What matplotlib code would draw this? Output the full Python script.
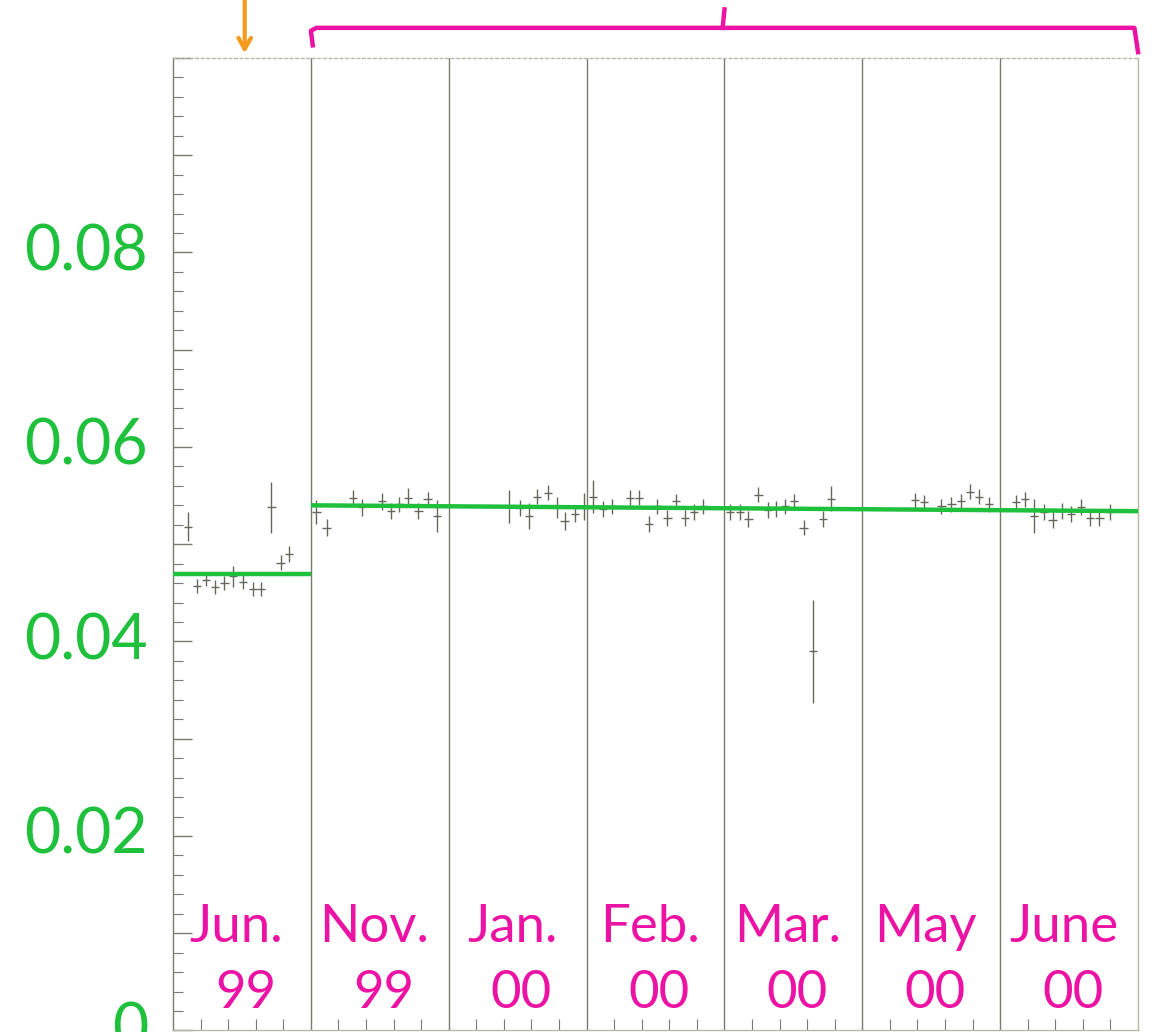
import matplotlib
matplotlib.use("Agg")
import matplotlib.pyplot as plt
from matplotlib.ticker import MultipleLocator, FuncFormatter

# runs, one panel each (15 measurement slots per panel)
months = ["Jun.", "Nov.", "Jan.", "Feb.", "Mar.", "May", "June"]
years = ["99", "99", "00", "00", "00", "00", "00"]

# measured points: slot position, value, error
x_jun = [1.6, 2.6, 3.6, 4.6, 5.6, 6.5, 7.6, 8.7, 9.6, 10.7, 11.7, 12.6]
y_jun = [0.0518, 0.0457, 0.0463, 0.0456, 0.0460, 0.0467, 0.0461, 0.0454, 0.0454, 0.0538, 0.0481, 0.0490]
e_jun = [0.0015, 0.0007, 0.0006, 0.0007, 0.0007, 0.0011, 0.0007, 0.0007, 0.0007, 0.0026, 0.0008, 0.0008]

x_rest = [15.6, 16.7, 19.6, 20.6, 22.7, 23.7, 24.6, 25.6, 26.7, 27.7, 28.7,
          36.6, 37.7, 38.7, 39.6, 40.8, 41.8, 42.6, 43.7, 44.7,
          45.7, 46.8, 47.8, 49.7, 50.7, 51.8, 52.7, 53.8, 54.7, 55.7, 56.7, 57.7,
          60.6, 61.7, 62.6, 63.7, 64.7, 65.6, 66.6, 67.6, 68.6, 69.6, 70.7, 71.6,
          80.7, 81.7, 83.6, 84.7, 85.7, 86.7, 87.7, 88.8,
          91.7, 92.7, 93.7, 94.8, 95.7, 96.7, 97.7, 98.8, 99.8, 100.8, 101.9]
y_rest = [0.0533, 0.0517, 0.0548, 0.0538, 0.0544, 0.0534, 0.0541, 0.0548, 0.0534, 0.0546, 0.0529,
          0.0539, 0.0537, 0.0529, 0.0549, 0.0553, 0.0538, 0.0524, 0.0531, 0.0539,
          0.0549, 0.0536, 0.0539, 0.0548, 0.0548, 0.0521, 0.0539, 0.0527, 0.0544, 0.0527, 0.0533, 0.0539,
          0.0533, 0.0533, 0.0526, 0.0551, 0.0535, 0.0536, 0.0539, 0.0544, 0.0517, 0.0390, 0.0526, 0.0547,
          0.0545, 0.0543, 0.0539, 0.0541, 0.0544, 0.0554, 0.0549, 0.0541,
          0.0543, 0.0546, 0.0529, 0.0533, 0.0525, 0.0534, 0.0531, 0.0538, 0.0527, 0.0527, 0.0533]
e_rest = [0.0012, 0.0009, 0.0008, 0.0009, 0.0009, 0.0008, 0.0008, 0.0010, 0.0008, 0.0008, 0.0016,
          0.0017, 0.0008, 0.0013, 0.0008, 0.0008, 0.0011, 0.0009, 0.0008, 0.0014,
          0.0017, 0.0008, 0.0008, 0.0008, 0.0008, 0.0008, 0.0008, 0.0008, 0.0008, 0.0008, 0.0008, 0.0008,
          0.0008, 0.0008, 0.0008, 0.0008, 0.0008, 0.0008, 0.0008, 0.0008, 0.0008, 0.0053, 0.0008, 0.0013,
          0.0008, 0.0008, 0.0008, 0.0008, 0.0008, 0.0008, 0.0008, 0.0008,
          0.0008, 0.0008, 0.0017, 0.0008, 0.0008, 0.0008, 0.0008, 0.0008, 0.0008, 0.0008, 0.0008]

# fitted levels: first run alone, then one line over the later runs
fit_jun_x = [0, 15]
fit_jun_y = [0.0469, 0.0469]
fit_rest_x = [15, 105]
fit_rest_y = [0.0540, 0.0534]

green = "#1fc03c"
magenta = "#ec12a4"
orange = "#f59a1c"
grey = "#7a7a72"
hand = "Lato"

fig = plt.figure(figsize=(11.52, 10.32), dpi=100)
ax = fig.add_axes([0.1502, 0.0015, 0.8377, 0.9423])

ax.errorbar(x_jun, y_jun, yerr=e_jun, xerr=0.45, fmt="none", ecolor="#66665c", elinewidth=1.0)
ax.errorbar(x_rest, y_rest, yerr=e_rest, xerr=0.45, fmt="none", ecolor="#66665c", elinewidth=1.0)
ax.plot(fit_jun_x, fit_jun_y, color=green, lw=3.2, solid_capstyle="butt", zorder=3)
ax.plot(fit_rest_x, fit_rest_y, color=green, lw=3.2, solid_capstyle="butt", zorder=3)

for b in range(1, len(months)):
    ax.axvline(b * 15, color=grey, lw=1.0, zorder=1)

ax.set_xlim(0, 105)
ax.set_ylim(0, 0.1)

for s in ax.spines.values():
    s.set_color("#b8b8a8")
    s.set_linewidth(1.0)
ax.spines["left"].set_color(grey)
ax.spines["top"].set_linestyle((0, (2, 2)))

ax.xaxis.set_major_locator(MultipleLocator(15))
ax.xaxis.set_minor_locator(MultipleLocator(3))
ax.yaxis.set_major_locator(MultipleLocator(0.01))
ax.yaxis.set_minor_locator(MultipleLocator(0.002))
ax.tick_params(axis="both", which="both", direction="in", colors=grey, top=False, right=False)
ax.tick_params(axis="y", which="major", length=14, width=1.0, pad=18)
ax.tick_params(axis="y", which="minor", length=7, width=0.8)
ax.tick_params(axis="x", which="major", length=0, labelbottom=False)
ax.tick_params(axis="x", which="minor", length=8, width=0.8)

def ylab(v, pos):
    k = int(round(v * 100))
    if k % 2 or k >= 10:
        return ""
    return "0" if k == 0 else "0.%02d" % k

ax.yaxis.set_major_formatter(FuncFormatter(ylab))
for t in ax.get_yticklabels():
    t.set_color(green)
    t.set_fontsize(45)
    t.set_fontfamily(hand)
    t.set_verticalalignment("center")

# month / year written inside each panel
for i, (m, yr) in enumerate(zip(months, years)):
    cx = i * 15 + 7.5
    ax.text(cx - 0.6, 0.106, m, transform=ax.get_xaxis_transform(), ha="center", va="center",
            color=magenta, fontsize=38, fontfamily=hand)
    ax.text(cx + 0.4, 0.038, yr, transform=ax.get_xaxis_transform(), ha="center", va="center",
            color=magenta, fontsize=38, fontfamily=hand)

# arrow over the first run
ax.annotate("", xy=(7.8, 1.002), xytext=(7.8, 1.062), xycoords=ax.get_xaxis_transform(),
            arrowprops=dict(arrowstyle="->,head_length=0.8,head_width=0.45", color=orange, lw=3.0),
            annotation_clip=False)

# bracket over the later runs
tr = ax.get_xaxis_transform()
ax.plot([15.2, 15.0, 15.6, 104.6, 105.0], [1.013, 1.028, 1.031, 1.031, 1.006], transform=tr,
        color=magenta, lw=3.2, clip_on=False, solid_joinstyle="round")
ax.plot([59.8, 60.0], [1.031, 1.050], transform=tr, color=magenta, lw=3.2, clip_on=False)

fig.savefig("out.png", dpi=100, facecolor="white")
